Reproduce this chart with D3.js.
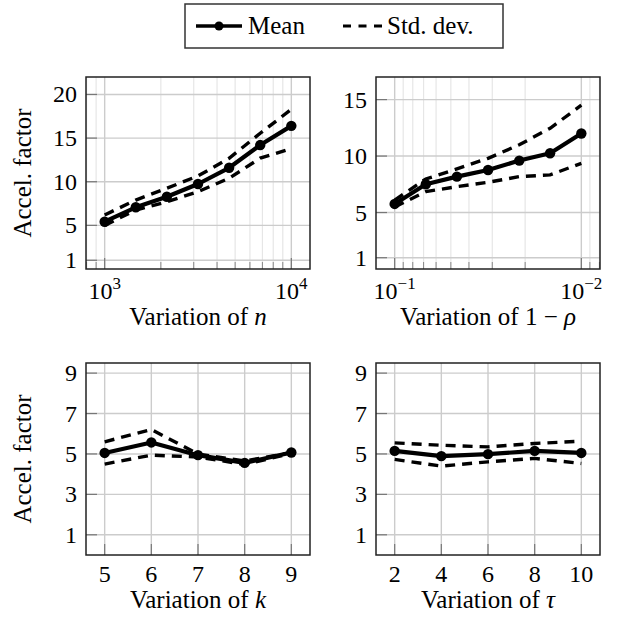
<!DOCTYPE html>
<html>
<head>
<meta charset="utf-8">
<script src="https://cdn.jsdelivr.net/npm/d3@7"></script>
<style>
  body { margin: 0; background: #fff; }
  svg text { font-family: "Liberation Serif", "DejaVu Serif", "Times New Roman", serif; fill: #000; font-weight: normal; }
</style>
</head>
<body>
<svg id="chart" width="620" height="617"></svg>
<script>
// ---- data ----
var nValues   = [1000, 1468, 2154, 3162, 4642, 6813, 10000];
var nMean     = [5.42, 7.07, 8.28, 9.74, 11.6, 14.2, 16.4];
var nUpper    = [6.19, 7.9, 9.25, 10.66, 12.68, 15.55, 18.3];
var nLower    = [5.0, 6.76, 7.7, 8.86, 10.4, 12.7, 13.8];

var rhoValues = [0.1, 0.0681, 0.0464, 0.0316, 0.0215, 0.0147, 0.01];
var rhoMean   = [5.76, 7.5, 8.18, 8.77, 9.6, 10.25, 12.0];
var rhoUpper  = [6.1, 7.97, 8.86, 9.8, 11.0, 12.46, 14.5];
var rhoLower  = [5.5, 6.85, 7.29, 7.68, 8.18, 8.33, 9.36];

var kValues   = [5, 6, 7, 8, 9];
var kMean     = [5.05, 5.57, 4.94, 4.56, 5.07];
var kUpper    = [5.6, 6.21, 5.0, 4.65, 5.07];
var kLower    = [4.5, 4.94, 4.85, 4.48, 5.02];

var tauValues = [2, 4, 6, 8, 10];
var tauMean   = [5.15, 4.89, 4.99, 5.15, 5.05];
var tauUpper  = [5.55, 5.43, 5.35, 5.52, 5.63];
var tauLower  = [4.73, 4.4, 4.61, 4.78, 4.53];

var nTickExps   = [3, 4];
var rhoTickExps = [-1, -2];
var kTicks      = [5, 6, 7, 8, 9];
var tauTicks    = [2, 4, 6, 8, 10];
var yTicksN     = [1, 5, 10, 15, 20];
var yTicksRho   = [1, 5, 10, 15];
var yTicksLow   = [1, 3, 5, 7, 9];

var svg = d3.select("#chart");

var panels = [
  { x0: 86, x1: 310, y0: 77, y1: 269, log: true,
    xdom: [Math.pow(10, 2.9), Math.pow(10, 4.1)], ydom: [0, 22],
    xs: nValues, mean: nMean, up: nUpper, lo: nLower,
    xticks: nTickExps, yticks: yTicksN, ylabel: true, xlabel: ["n"] },
  { x0: 376, x1: 600, y0: 77, y1: 269, log: true,
    xdom: [Math.pow(10, -0.9), Math.pow(10, -2.1)], ydom: [0, 17],
    xs: rhoValues, mean: rhoMean, up: rhoUpper, lo: rhoLower,
    xticks: rhoTickExps, yticks: yTicksRho, ylabel: false, xlabel: ["1 \u2212 ", "\u03c1"] },
  { x0: 86, x1: 310, y0: 363, y1: 555, log: false,
    xdom: [4.6, 9.4], ydom: [0, 9.5],
    xs: kValues, mean: kMean, up: kUpper, lo: kLower,
    xticks: kTicks, yticks: yTicksLow, ylabel: true, xlabel: ["k"] },
  { x0: 376, x1: 600, y0: 363, y1: 555, log: false,
    xdom: [1.2, 10.8], ydom: [0, 9.5],
    xs: tauValues, mean: tauMean, up: tauUpper, lo: tauLower,
    xticks: tauTicks, yticks: yTicksLow, ylabel: false, xlabel: ["\u03c4"] }
];

function isDecade(v) {
  var l = Math.log10(v);
  return Math.abs(l - Math.round(l)) < 1e-6;
}

panels.forEach(function(p) {
  var g = svg.append("g");
  var x = (p.log ? d3.scaleLog() : d3.scaleLinear()).domain(p.xdom).range([p.x0, p.x1]);
  var y = d3.scaleLinear().domain(p.ydom).range([p.y1, p.y0]);

  var majorX = p.log ? p.xticks.map(function(e) { return Math.pow(10, e); }) : p.xticks;
  var minorX = p.log ? x.ticks().filter(function(v) { return !isDecade(v); }) : [];

  // minor grid
  g.selectAll(".minor").data(minorX).enter().append("line")
    .attr("x1", function(d) { return x(d); }).attr("x2", function(d) { return x(d); })
    .attr("y1", p.y0).attr("y2", p.y1)
    .attr("stroke", "#e6e6e6").attr("stroke-width", 1.2);

  // major grid
  g.selectAll(".gx").data(majorX).enter().append("line")
    .attr("x1", function(d) { return x(d); }).attr("x2", function(d) { return x(d); })
    .attr("y1", p.y0).attr("y2", p.y1)
    .attr("stroke", "#cccccc").attr("stroke-width", 1.4);
  g.selectAll(".gy").data(p.yticks).enter().append("line")
    .attr("x1", p.x0).attr("x2", p.x1)
    .attr("y1", function(d) { return y(d); }).attr("y2", function(d) { return y(d); })
    .attr("stroke", "#cccccc").attr("stroke-width", 1.4);

  // inner ticks
  g.selectAll(".ty").data(p.yticks).enter().append("line")
    .attr("x1", p.x0).attr("x2", p.x0 + 11)
    .attr("y1", function(d) { return y(d); }).attr("y2", function(d) { return y(d); })
    .attr("stroke", "#777").attr("stroke-width", 1.2);
  g.selectAll(".tx").data(majorX).enter().append("line")
    .attr("x1", function(d) { return x(d); }).attr("x2", function(d) { return x(d); })
    .attr("y1", p.y1).attr("y2", p.y1 - 11)
    .attr("stroke", "#777").attr("stroke-width", 1.2);
  g.selectAll(".tm").data(minorX).enter().append("line")
    .attr("x1", function(d) { return x(d); }).attr("x2", function(d) { return x(d); })
    .attr("y1", p.y1).attr("y2", p.y1 - 7)
    .attr("stroke", "#888").attr("stroke-width", 1);

  // frame
  g.append("rect")
    .attr("x", p.x0).attr("y", p.y0)
    .attr("width", p.x1 - p.x0).attr("height", p.y1 - p.y0)
    .attr("fill", "none").attr("stroke", "#222").attr("stroke-width", 1.5);

  // y tick labels
  g.selectAll(".yl").data(p.yticks).enter().append("text")
    .attr("x", p.x0 - 9).attr("y", function(d) { return y(d) + 8; })
    .attr("text-anchor", "end").attr("font-size", 24)
    .text(function(d) { return d; });

  // x tick labels
  if (p.log) {
    p.xticks.forEach(function(e) {
      var t = g.append("text")
        .attr("x", x(Math.pow(10, e))).attr("y", p.y1 + 30)
        .attr("text-anchor", "middle").attr("font-size", 24);
      t.append("tspan").text("10");
      t.append("tspan").attr("dy", -10).attr("font-size", 17)
        .text(String(e).replace("-", "\u2212"));
    });
  } else {
    g.selectAll(".xl").data(p.xticks).enter().append("text")
      .attr("x", function(d) { return x(d); }).attr("y", p.y1 + 27)
      .attr("text-anchor", "middle").attr("font-size", 24)
      .text(function(d) { return d; });
  }

  // x axis label
  var xl = g.append("text")
    .attr("x", (p.x0 + p.x1) / 2).attr("y", p.y1 + (p.log ? 56 : 53))
    .attr("text-anchor", "middle").attr("font-size", 25);
  xl.append("tspan").text("Variation of ");
  if (p.xlabel.length === 2) {
    xl.append("tspan").text(p.xlabel[0]);
    xl.append("tspan").attr("font-style", "italic").text(p.xlabel[1]);
  } else {
    xl.append("tspan").attr("font-style", "italic").text(p.xlabel[0]);
  }

  if (p.ylabel) {
    g.append("text")
      .attr("transform", "translate(31," + ((p.y0 + p.y1) / 2) + ") rotate(-90)")
      .attr("text-anchor", "middle").attr("font-size", 25)
      .text("Accel. factor");
  }

  // series
  var line = d3.line()
    .x(function(d) { return x(d[0]); })
    .y(function(d) { return y(d[1]); });
  var zip = function(vals) { return p.xs.map(function(v, i) { return [v, vals[i]]; }); };

  [p.up, p.lo].forEach(function(s) {
    g.append("path").datum(zip(s)).attr("d", line)
      .attr("fill", "none").attr("stroke", "#000")
      .attr("stroke-width", 3.4).attr("stroke-dasharray", "10,7");
  });
  g.append("path").datum(zip(p.mean)).attr("d", line)
    .attr("fill", "none").attr("stroke", "#000")
    .attr("stroke-width", 4.2).attr("stroke-linejoin", "round");
  g.selectAll(".pt").data(zip(p.mean)).enter().append("circle")
    .attr("cx", function(d) { return x(d[0]); })
    .attr("cy", function(d) { return y(d[1]); })
    .attr("r", 5.2).attr("fill", "#000");
});

// legend
var lg = svg.append("g");
lg.append("rect").attr("x", 185).attr("y", 4).attr("width", 318).attr("height", 44)
  .attr("fill", "#fff").attr("stroke", "#333").attr("stroke-width", 1.5);
lg.append("line").attr("x1", 196).attr("x2", 242).attr("y1", 26).attr("y2", 26)
  .attr("stroke", "#000").attr("stroke-width", 3.5);
lg.append("circle").attr("cx", 219).attr("cy", 26).attr("r", 4.5).attr("fill", "#000");
lg.append("text").attr("x", 248).attr("y", 34).attr("font-size", 25).text("Mean");
lg.append("line").attr("x1", 343).attr("x2", 382).attr("y1", 26).attr("y2", 26)
  .attr("stroke", "#000").attr("stroke-width", 3).attr("stroke-dasharray", "8,7.5");
lg.append("text").attr("x", 387).attr("y", 34).attr("font-size", 25).text("Std. dev.");
</script>
</body>
</html>
